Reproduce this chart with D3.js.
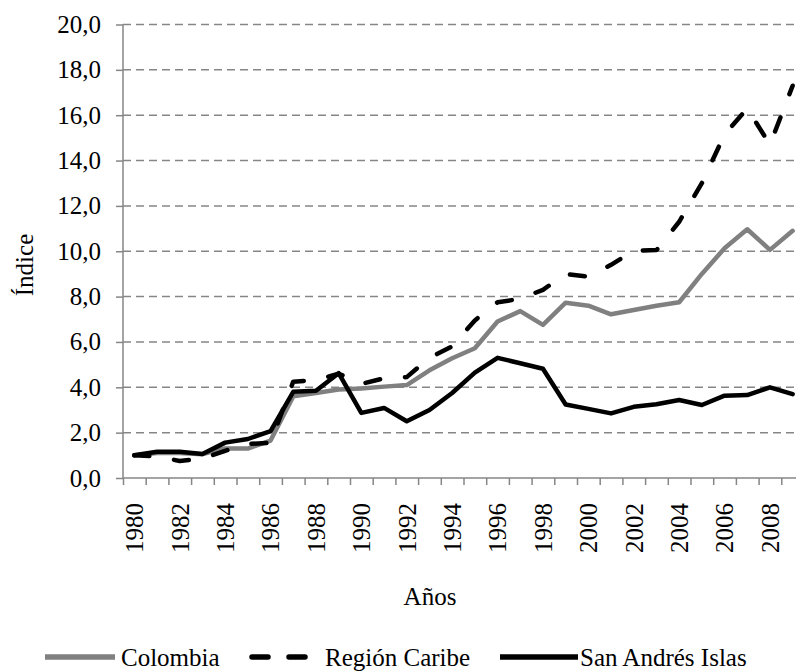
<!DOCTYPE html>
<html lang="es">
<head>
<meta charset="utf-8">
<script src="https://cdn.jsdelivr.net/npm/d3@7/dist/d3.min.js"></script>
<style>
  body { margin: 0; background: #fff; }
</style>
</head>
<body>
<div id="chart"></div>
<script>
// datos
const years = d3.range(1980, 2010);
const yearLabels = d3.range(1980, 2010, 2);
const yTicks = [0, 2, 4, 6, 8, 10, 12, 14, 16, 18, 20];

const colombia = [1.0, 1.1, 1.1, 1.05, 1.3, 1.3, 1.65, 3.6, 3.75, 3.9,
                  3.95, 4.03, 4.1, 4.75, 5.28, 5.72, 6.9, 7.36, 6.75, 7.73,
                  7.6, 7.22, 7.41, 7.6, 7.75, 9.0, 10.13, 10.97, 10.06, 10.9];
const caribe = [1.0, 0.95, 0.75, 0.85, 1.2, 1.5, 1.55, 4.25, 4.32, 4.6,
                4.15, 4.4, 4.45, 5.3, 5.8, 6.95, 7.75, 7.9, 8.3, 9.0,
                8.88, 9.4, 10.03, 10.05, 11.3, 13.0, 15.15, 16.3, 14.7, 17.3];
const sanAndres = [1.0, 1.16, 1.16, 1.06, 1.56, 1.72, 2.07, 3.8, 3.85, 4.62,
                   2.87, 3.09, 2.5, 3.0, 3.75, 4.65, 5.3, 5.06, 4.82, 3.24,
                   3.05, 2.85, 3.14, 3.25, 3.44, 3.22, 3.63, 3.66, 4.0, 3.7];

const width = 796, height = 671;
const plotLeft = 123, plotRight = 804, plotTop = 24.5, plotBottom = 478;
const axisGray = "#868686";
const serif = "'Liberation Serif', 'DejaVu Serif', serif";

const svg = d3.select("#chart").append("svg")
    .attr("width", width)
    .attr("height", height)
    .attr("font-family", serif)
    .style("background", "#fff");

const x = d3.scaleBand().domain(years).range([plotLeft, plotRight]);
const xEdge = d3.scaleLinear().domain([0, years.length]).range([plotLeft, plotRight]);
const y = d3.scaleLinear().domain([0, 20]).range([plotBottom, plotTop]);

// lineas de cuadricula
svg.append("g")
    .selectAll("line")
    .data(yTicks.filter(d => d > 0))
    .join("line")
    .attr("x1", plotLeft)
    .attr("x2", width)
    .attr("y1", d => y(d))
    .attr("y2", d => y(d))
    .attr("stroke", axisGray)
    .attr("stroke-width", 1.5)
    .attr("stroke-dasharray", "8,5");

// eje Y
const yAxis = svg.append("g")
    .attr("transform", `translate(${plotLeft},0)`)
    .call(d3.axisLeft(y)
        .tickValues(yTicks)
        .tickSize(7)
        .tickPadding(15)
        .tickFormat(d => d3.format(".1f")(d).replace(".", ",")));
yAxis.attr("font-family", serif).attr("font-size", 25);
yAxis.select(".domain").remove();
yAxis.selectAll("line").attr("stroke", axisGray).attr("stroke-width", 1.5);
svg.append("line")
    .attr("x1", plotLeft).attr("x2", plotLeft)
    .attr("y1", plotTop).attr("y2", plotBottom)
    .attr("stroke", axisGray).attr("stroke-width", 1.5);

// eje X: marcas en los bordes de cada categoria
const xTicks = svg.append("g")
    .attr("transform", `translate(0,${plotBottom})`)
    .call(d3.axisBottom(xEdge).ticks(years.length).tickSize(7).tickFormat(""));
xTicks.select(".domain").remove();
xTicks.selectAll("line").attr("stroke", axisGray).attr("stroke-width", 1.5);
svg.append("line")
    .attr("x1", plotLeft).attr("x2", width)
    .attr("y1", plotBottom).attr("y2", plotBottom)
    .attr("stroke", axisGray).attr("stroke-width", 1.5);

const xLabels = svg.append("g")
    .attr("transform", `translate(0,${plotBottom})`)
    .call(d3.axisBottom(x).tickValues(yearLabels).tickSize(0));
xLabels.attr("font-family", serif).attr("font-size", 25);
xLabels.select(".domain").remove();
xLabels.selectAll("text")
    .attr("text-anchor", "end")
    .attr("transform", "translate(0,25) rotate(-90)")
    .attr("x", 0)
    .attr("y", 0)
    .attr("dy", "0.35em");

// titulos de ejes
svg.append("text")
    .attr("transform", `translate(33,265) rotate(-90)`)
    .attr("text-anchor", "middle")
    .attr("font-size", 25)
    .text("Índice");

svg.append("text")
    .attr("x", 430)
    .attr("y", 605)
    .attr("text-anchor", "middle")
    .attr("font-size", 25)
    .text("Años");

// series
const line = d3.line()
    .x((d, i) => x(years[i]) + x.bandwidth() / 2)
    .y(d => y(d));

const series = [
    { name: "Colombia", values: colombia, color: "#808080", dash: null },
    { name: "Región Caribe", values: caribe, color: "#000", dash: "15,25" },
    { name: "San Andrés Islas", values: sanAndres, color: "#000", dash: null }
];

svg.append("g")
    .selectAll("path")
    .data(series)
    .join("path")
    .attr("d", d => line(d.values))
    .attr("fill", "none")
    .attr("stroke", d => d.color)
    .attr("stroke-width", 4.5)
    .attr("stroke-linejoin", "round")
    .attr("stroke-linecap", "round")
    .attr("stroke-dasharray", d => d.dash);

// leyenda
const legendY = 657;
const legendItems = [
    { s: series[0], x1: 45, x2: 115, tx: 121, dash: null },
    { s: series[1], x1: 252, x2: 305, tx: 325, dash: "16,21" },
    { s: series[2], x1: 500, x2: 578, tx: 580, dash: null }
];

const legend = svg.append("g");
legend.selectAll("line")
    .data(legendItems)
    .join("line")
    .attr("x1", d => d.x1)
    .attr("x2", d => d.x2)
    .attr("y1", legendY)
    .attr("y2", legendY)
    .attr("stroke", d => d.s.color)
    .attr("stroke-width", 5.5)
    .attr("stroke-linecap", d => d.dash ? "round" : "butt")
    .attr("stroke-dasharray", d => d.dash);
legend.selectAll("text")
    .data(legendItems)
    .join("text")
    .attr("x", d => d.tx)
    .attr("y", legendY + 9)
    .attr("font-size", 25)
    .text(d => d.s.name);
</script>
</body>
</html>
